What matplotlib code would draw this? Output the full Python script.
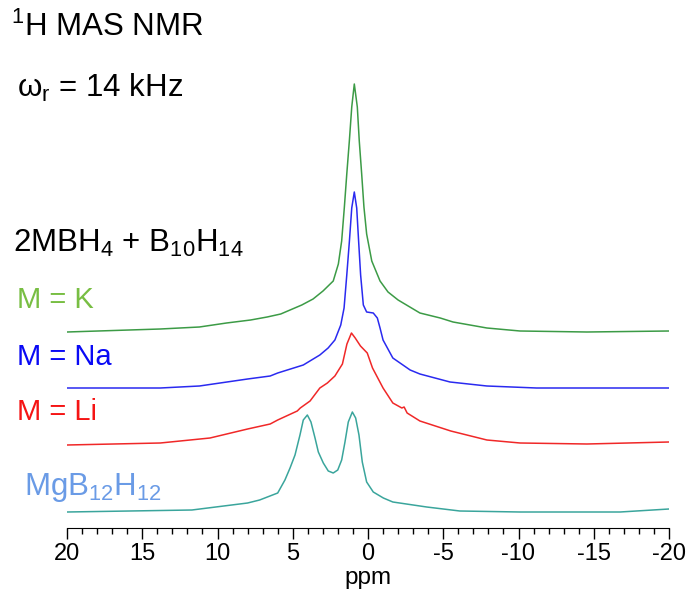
import numpy as np
import matplotlib
matplotlib.use("Agg")
import matplotlib.pyplot as plt
from matplotlib.ticker import MultipleLocator

plt.rcParams['font.family'] = ['Liberation Sans', 'DejaVu Sans']
plt.rcParams['mathtext.fontset'] = 'custom'
plt.rcParams['mathtext.rm'] = 'Liberation Sans'
plt.rcParams['mathtext.it'] = 'Liberation Sans'

# chemical shift (ppm) and intensity above each baseline (a.u.)
ppm_k = [20.0, 13.8, 11.2, 9.4, 7.8, 6.7, 5.8, 4.4, 3.65, 2.99, 2.31, 1.97, 1.75, 1.57,
         1.41, 1.24, 1.08, 0.91, 0.71, 0.58, 0.42, 0.27, 0.09, -0.25, -0.8, -1.33,
         -2.0, -3.45, -4.8, -5.65, -7.9, -10.1, -14.55, -20.0]
int_k = [0, 3, 5, 9, 12, 15, 18, 27, 33, 41, 51, 68, 91, 125,
         158, 191, 225, 248, 225, 191, 158, 125, 98, 71, 51, 40,
         32, 19, 14, 10, 4, 1, 0, 1]

ppm_na = [20.0, 13.8, 11.2, 8.0, 6.5, 6.0, 4.3, 3.2, 2.65, 2.2, 1.81, 1.59, 1.41, 1.24,
          1.08, 0.91, 0.75, 0.62, 0.49, 0.31, 0.09, -0.35, -0.62, -0.8, -1.0, -1.65,
          -2.8, -3.45, -5.45, -7.9, -11.2, -20.0]
int_na = [0, 0, 2, 9, 12, 15, 23, 33, 40, 48, 63, 80, 113, 146,
          180, 196, 180, 146, 113, 83, 76, 75, 70, 60, 48, 30,
          18, 14, 6, 2, 0, 0]

ppm_li = [20.0, 13.8, 10.5, 8.0, 6.5, 6.0, 4.7, 4.5, 3.85, 3.2, 2.7, 2.2, 1.7, 1.4,
          1.1, 0.85, 0.5, 0.05, -0.3, -1.0, -1.65, -2.25, -2.4, -2.6, -3.45, -5.5,
          -7.9, -10.1, -14.55, -20.0]
int_li = [-2, 0, 5, 14, 19, 23, 32, 35, 42, 55, 60, 67, 79, 99,
          110, 105, 97, 90, 75, 55, 40, 35, 36, 30, 22, 12,
          3, 0, -1, 1]

ppm_mg = [20.0, 11.7, 8.0, 7.2, 6.0, 5.52, 5.18, 4.85, 4.52, 4.3, 4.03, 3.79, 3.52, 3.3,
          2.97, 2.64, 2.31, 2.01, 1.75, 1.53, 1.31, 1.04, 0.82, 0.6, 0.38, 0.09,
          -0.35, -1.02, -1.65, -3.9, -6.1, -10.1, -16.75, -20.0]
int_mg = [0, 2, 9, 12, 19, 32, 44, 57, 77, 92, 97, 90, 74, 60,
          49, 41, 39, 42, 52, 70, 90, 100, 94, 77, 50, 30,
          20, 14, 10, 5, 1, 0, 0, 3]

# vertical offsets of the stacked traces
offsets = [196, 140, 85, 16]
line_colors = ['#3c9b46', '#2a2af0', '#f02828', '#3aa59c']

fig = plt.figure(figsize=(6.89, 5.90), dpi=100)
ax = fig.add_axes([67 / 689, 62 / 590, 602 / 689, 468 / 590])

spectra = [(ppm_k, int_k), (ppm_na, int_na), (ppm_li, int_li), (ppm_mg, int_mg)]
for (x, y), off, c in zip(spectra, offsets, line_colors):
    ax.plot(x, np.array(y) + off, color=c, lw=1.1)

ax.set_xlim(20, -20)
ax.set_ylim(0, 468)
for s in ['top', 'left', 'right']:
    ax.spines[s].set_visible(False)
ax.set_yticks([])
ax.xaxis.set_major_locator(MultipleLocator(5))
ax.xaxis.set_minor_locator(MultipleLocator(1))
ax.tick_params(axis='x', which='major', length=8, width=1, labelsize=17, pad=3)
ax.tick_params(axis='x', which='minor', length=4, width=1)
ax.set_xticklabels([f'{int(v)}' for v in ax.get_xticks()])
ax.set_xlabel('ppm', fontsize=17.5, labelpad=1)

def ftext(px, py, s, size, color='black'):
    fig.text(px / 689, 1 - py / 590, s, fontsize=size, color=color, va='center', ha='left')

ftext(11, 27, r'$\mathregular{^1}$H MAS NMR', 22.5)
ftext(17, 88, r'$\mathregular{\omega_r}$ = 14 kHz', 22.5)
ftext(13, 243, r'2MBH$\mathregular{_4}$ + B$\mathregular{_{10}}$H$\mathregular{_{14}}$', 22.5)
ftext(17, 300, 'M = K', 21, '#78be43')
ftext(17, 357, 'M = Na', 21, '#0a0af5')
ftext(17, 412, 'M = Li', 21, '#f51414')
ftext(24, 487, r'MgB$\mathregular{_{12}}$H$\mathregular{_{12}}$', 22.5, '#6a9be6')

fig.savefig('out.png', dpi=100)
